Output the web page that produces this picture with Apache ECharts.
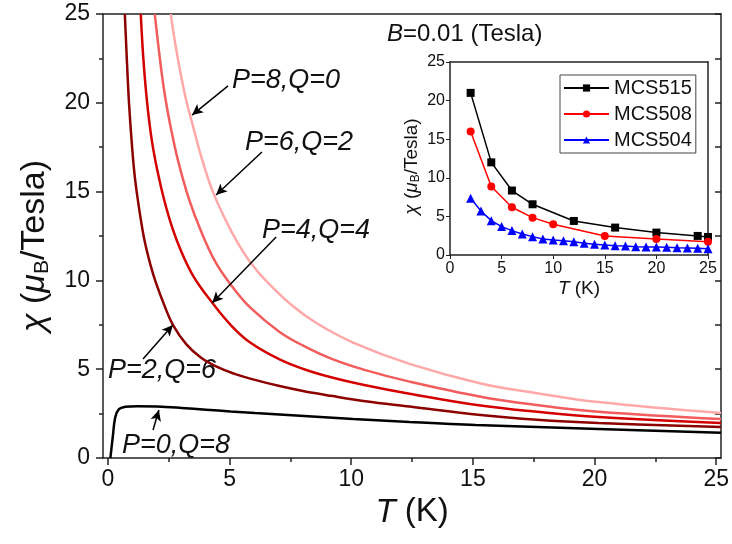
<!DOCTYPE html>
<html lang="en">
<head>
<meta charset="UTF-8">
<title>chi vs T</title>
<script src="https://cdn.jsdelivr.net/npm/echarts@6/dist/echarts.min.js"></script>
<style>
  html, body { margin: 0; padding: 0; background: #fff; }
  #chart { width: 732px; height: 544px; }
</style>
</head>
<body>
<div id="chart"></div>
<script>
// ---- main panel: calculated curves [T (K), chi] ----
const curveP0Q8 = [[0.1, 0], [0.2, 1.2], [0.3, 2.3], [0.45, 2.75], [0.7, 2.88], [1.2, 2.92], [2, 2.9], [3, 2.82],
  [4, 2.72], [5, 2.62], [6, 2.53], [8, 2.37], [10, 2.2], [12.3, 2.03], [15, 1.86], [20, 1.63], [25, 1.42]];
const curveP2Q6 = [[0.69, 25], [0.78, 22.2], [0.86, 20], [0.97, 17.8], [1.1, 15.8], [1.3, 13.8], [1.5, 12.2],
  [1.75, 10.8], [1.95, 9.9], [2.3, 8.6], [2.65, 7.5], [3.2, 6.4], [3.8, 5.65], [4.5, 5.1], [5.2, 4.72],
  [5.8, 4.47], [7, 4.05], [8, 3.76], [9.1, 3.5], [10.5, 3.2], [12.3, 2.9], [15.2, 2.42], [17.5, 2.15],
  [20, 1.97], [25, 1.74]];
const curveP4Q4 = [[1.34, 25], [1.45, 22.4], [1.6, 20], [1.8, 17.8], [2.03, 16.1], [2.3, 14.5], [2.64, 12.9],
  [3.0, 11.6], [3.5, 10.2], [4.25, 8.75], [5, 7.5], [5.8, 6.5], [7, 5.55], [8, 5.0], [9.1, 4.55], [10.5, 4.1],
  [12.3, 3.62], [15.2, 2.95], [17.5, 2.6], [20, 2.31], [25, 1.97]];
const curveP6Q2 = [[1.91, 25], [2.05, 23.3], [2.2, 21.6], [2.35, 20.2], [2.55, 18.7], [2.85, 16.8], [3.3, 14.6],
  [3.79, 12.8], [4.4, 11.0], [5.1, 9.6], [5.82, 8.45], [7, 7.1], [8, 6.3], [9.1, 5.6], [10.5, 4.95],
  [12.3, 4.3], [15.2, 3.45], [17.5, 2.98], [20, 2.6], [25, 2.19]];
const curveP8Q0 = [[2.56, 25], [2.75, 23.3], [3.0, 21.4], [3.2, 20.1], [3.43, 18.9], [3.8, 17.0], [4.25, 15.1],
  [4.8, 13.4], [5.3, 12.1], [5.82, 11.0], [6.5, 9.9], [7.5, 8.6], [8.5, 7.6], [10, 6.5], [12.3, 5.3],
  [15.2, 4.2], [17.5, 3.65], [20, 3.15], [25, 2.53]];

// ---- inset: measured data [T (K), chi] ----
const mcs515 = [[2, 21], [4, 12], [6, 8.35], [8, 6.57], [12, 4.41], [16, 3.55], [20, 2.9], [24, 2.47], [25, 2.33]];
const mcs508 = [[2, 16], [4, 8.87], [6, 6.19], [8, 4.84], [10, 3.98], [15, 2.47], [20, 2.08], [25, 1.73]];
const mcs504T = [2, 3, 4, 5, 6, 7, 8, 9, 10, 11, 12, 13, 14, 15, 16, 17, 18, 19, 20, 21, 22, 23, 24, 25];
const mcs504Chi = [7.35, 5.7, 4.45, 3.68, 3.16, 2.72, 2.38, 2.08, 1.95, 1.86, 1.73, 1.51, 1.38, 1.3, 1.21, 1.17,
  1.08, 1.04, 1.04, 1.0, 0.95, 0.91, 0.87, 0.82];

// arrows from label to curve, in data coords
const arrows = [
  [[4.90, 20.95], [3.43, 19.31]],
  [[6.28, 17.23], [4.41, 14.81]],
  [[6.86, 12.44], [4.25, 8.73]],
  [[1.43, 5.57], [2.65, 7.49]],
  [[1.84, 1.58], [2.08, 2.70]]
];
const labels = ['P=8,Q=0', 'P=6,Q=2', 'P=4,Q=4', 'P=2,Q=6', 'P=0,Q=8'];
const labelPos = [[232, 80], [245, 142], [262, 230], [108, 370], [122, 445]];

const xMin = -0.2, xMax = 25, yMax = 25, step = 5;
const FONT = '"Liberation Sans", Arial, sans-serif';

// main grid geometry (px)
const mLeft = 103, mRight = 11, mTop = 14, mBottom = 86;
const mWidth = 732 - mLeft - mRight;
const tickLeft = mLeft + (0 - xMin) / (xMax - xMin) * mWidth;

const chart = echarts.init(document.getElementById('chart'));

const lineAx = { show: true, onZero: false, lineStyle: { color: '#222', width: 1.5 } };
const tickStyle = { color: '#222', width: 1.5 };

chart.setOption({
  animation: false,
  textStyle: { fontFamily: FONT, color: '#111' },
  grid: [
    { left: mLeft, right: mRight, top: mTop, bottom: mBottom },
    { left: tickLeft, right: mRight, top: mTop, bottom: mBottom },
    { left: 450, right: 24, top: 62, bottom: 289 }
  ],
  xAxis: [
    { gridIndex: 0, type: 'value', min: xMin, max: xMax, axisLine: lineAx, axisTick: { show: false },
      axisLabel: { show: false }, splitLine: { show: false } },
    { gridIndex: 0, type: 'value', position: 'top', min: xMin, max: xMax, axisLine: lineAx,
      axisTick: { show: false }, axisLabel: { show: false }, splitLine: { show: false } },
    { gridIndex: 1, type: 'value', min: 0, max: xMax, interval: step,
      axisLine: { show: false, onZero: false },
      axisTick: { show: true, inside: false, length: 7, lineStyle: tickStyle },
      minorTick: { show: true, splitNumber: 2, length: 4, lineStyle: tickStyle },
      axisLabel: { fontSize: 23, color: '#111', margin: 10 },
      splitLine: { show: false },
      name: '{i|T} (K)', nameLocation: 'middle', nameGap: 33,
      nameTextStyle: { fontSize: 33, color: '#111', rich: { i: { fontSize: 33, fontStyle: 'italic' } } } },
    { gridIndex: 2, type: 'value', min: 0, max: 25, interval: 5, axisLine: lineAx,
      axisTick: { show: true, length: 4, lineStyle: { color: '#222' } },
      axisLabel: { fontSize: 16, color: '#111', margin: 6 }, splitLine: { show: false },
      name: '{i|T} (K)', nameLocation: 'middle', nameGap: 24,
      nameTextStyle: { fontSize: 19, color: '#111', rich: { i: { fontSize: 19, fontStyle: 'italic' } } } },
    { gridIndex: 2, type: 'value', position: 'top', min: 0, max: 25, axisLine: lineAx,
      axisTick: { show: false }, axisLabel: { show: false }, splitLine: { show: false } }
  ],
  yAxis: [
    { gridIndex: 0, type: 'value', min: 0, max: yMax, interval: step, axisLine: lineAx,
      axisTick: { show: true, length: 7, lineStyle: tickStyle },
      minorTick: { show: true, splitNumber: 2, length: 4, lineStyle: tickStyle },
      axisLabel: { fontSize: 23, color: '#111', margin: 13 }, splitLine: { show: false },
      name: '{i|χ} ({i|μ}{s|B}/Tesla)', nameLocation: 'middle', nameGap: 50,
      nameTextStyle: { fontSize: 34, color: '#111', padding: [0, 20, 0, 0],
        rich: { i: { fontSize: 34, fontStyle: 'italic' }, s: { fontSize: 21, padding: [15, 0, 0, 0] } } } },
    { gridIndex: 0, type: 'value', position: 'right', min: 0, max: yMax, interval: step / 2, axisLine: lineAx,
      axisTick: { show: true, inside: true, length: 6, lineStyle: tickStyle },
      axisLabel: { show: false }, splitLine: { show: false } },
    { gridIndex: 1, type: 'value', min: 0, max: yMax, show: false },
    { gridIndex: 2, type: 'value', min: 0, max: 25, interval: 5, axisLine: lineAx,
      axisTick: { show: true, length: 4, lineStyle: { color: '#222' } },
      axisLabel: { fontSize: 16, color: '#111', margin: 5 }, splitLine: { show: false },
      name: '{i|χ} ({i|μ}{s|B}/Tesla)', nameLocation: 'middle', nameGap: 28,
      nameTextStyle: { fontSize: 19, color: '#111', padding: [0, 16, 0, 0],
        rich: { i: { fontSize: 19, fontStyle: 'italic' }, s: { fontSize: 12, padding: [8, 0, 0, 0] } } } },
    { gridIndex: 2, type: 'value', position: 'right', min: 0, max: 25, axisLine: lineAx,
      axisTick: { show: false }, axisLabel: { show: false }, splitLine: { show: false } }
  ],
  legend: {
    data: ['MCS515', 'MCS508', 'MCS504'],
    orient: 'vertical', left: 560, top: 75,
    padding: [3, 4, 3, 3], itemGap: 6, itemWidth: 45, itemHeight: 9,
    borderColor: '#444', borderWidth: 1, borderRadius: 0,
    textStyle: { fontSize: 20, lineHeight: 20, color: '#111', fontFamily: FONT }
  },
  series: [
    { name: 'P=0,Q=8', type: 'line', data: curveP0Q8, smooth: 0.4, showSymbol: false,
      lineStyle: { color: '#000', width: 2.5 }, z: 5,
      markLine: { silent: true, symbol: ['none', 'arrow'], symbolSize: [8, 11], animation: false,
        lineStyle: { color: '#000', width: 1.5, type: 'solid' }, label: { show: false },
        data: arrows.map(a => [{ coord: a[0] }, { coord: a[1] }]) } },
    { name: 'P=2,Q=6', type: 'line', data: curveP2Q6, smooth: 0.4, showSymbol: false,
      lineStyle: { color: '#8c0000', width: 2.5 } },
    { name: 'P=4,Q=4', type: 'line', data: curveP4Q4, smooth: 0.4, showSymbol: false,
      lineStyle: { color: '#d40000', width: 2.5 } },
    { name: 'P=6,Q=2', type: 'line', data: curveP6Q2, smooth: 0.4, showSymbol: false,
      lineStyle: { color: '#f25c5c', width: 2.5 } },
    { name: 'P=8,Q=0', type: 'line', data: curveP8Q0, smooth: 0.4, showSymbol: false,
      lineStyle: { color: '#ffa8a8', width: 2.5 } },
    { name: 'MCS515', type: 'line', xAxisIndex: 3, yAxisIndex: 3, data: mcs515,
      symbol: 'rect', symbolSize: 8, itemStyle: { color: '#000' }, lineStyle: { color: '#000', width: 1.5 } },
    { name: 'MCS508', type: 'line', xAxisIndex: 3, yAxisIndex: 3, data: mcs508,
      symbol: 'circle', symbolSize: 8, itemStyle: { color: '#ff0000' }, lineStyle: { color: '#ff0000', width: 1.5 } },
    { name: 'MCS504', type: 'line', xAxisIndex: 3, yAxisIndex: 3,
      data: mcs504T.map((t, i) => [t, mcs504Chi[i]]),
      symbol: 'triangle', symbolSize: 9, itemStyle: { color: '#0000ff' }, lineStyle: { color: '#0000ff', width: 1.5 } }
  ],
  graphic: labels.map((txt, i) => ({
    type: 'text', x: labelPos[i][0], y: labelPos[i][1],
    style: { text: txt, font: 'italic 27px ' + FONT, fill: '#111', verticalAlign: 'middle' }
  })).concat([{
    type: 'text', x: 387, y: 34,
    style: { text: '{i|B}=0.01 (Tesla)', fontSize: 24, fontFamily: FONT, fill: '#111', verticalAlign: 'middle',
      rich: { i: { fontSize: 24, fontStyle: 'italic', fontFamily: FONT } } }
  }])
});
</script>
</body>
</html>
